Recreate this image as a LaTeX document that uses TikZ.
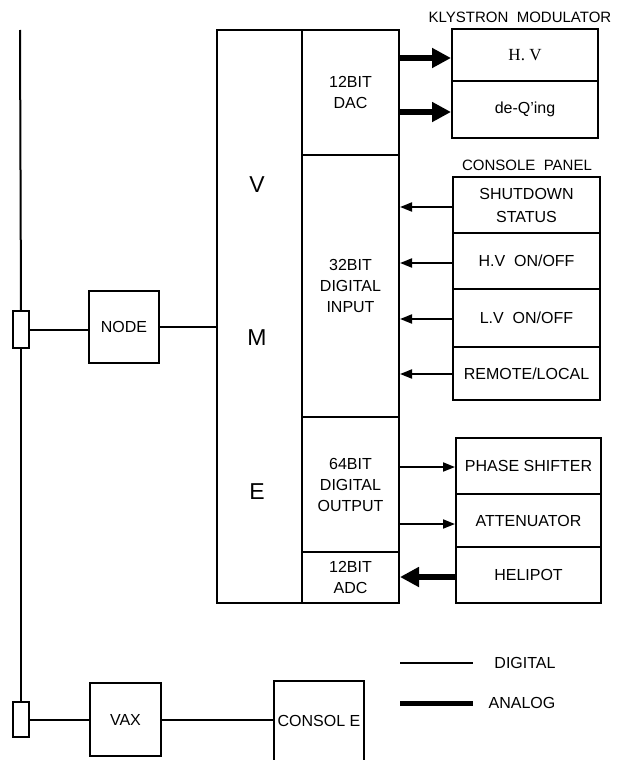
\documentclass[tikz,border=0pt]{standalone}
\usepackage{fontspec}
\setmainfont{Liberation Sans}
\newfontfamily\serifhv{Liberation Serif}
\usetikzlibrary{arrows.meta}
\begin{document}
\begin{tikzpicture}[x=1pt,y=-1pt,line width=2pt,
  font=\fontsize{16}{21}\selectfont,
  box/.style={draw,inner sep=0pt,align=center},
  plain/.style={inner sep=0pt,align=center},
  title/.style={inner sep=0pt,font=\fontsize{15}{18}\selectfont},
  digi/.style={line width=1.8pt,-{Triangle[length=12pt,width=9pt]}},
  anlg/.style={line width=6pt,-{Triangle[length=19pt,width=19pt]}},
  big/.style={inner sep=0pt,font=\fontsize{23}{23}\selectfont}]
\useasboundingbox (0,0) rectangle (626,760);
% VME crate
\node[box,minimum width=85pt,minimum height=573pt] (vme) at (259.5,316.5) {};
\node[big] (v) at (257,185) {V};
\node[big] (m) at (257,338) {M};
\node[big] (e) at (257,492) {E};
\node[box,minimum width=97pt,minimum height=125pt] (dac) at (350.5,92.5) {12BIT\\DAC};
\node[box,minimum width=97pt,minimum height=262pt] (din) at (350.5,286) {32BIT\\DIGITAL\\INPUT};
\node[box,minimum width=97pt,minimum height=135pt] (dout) at (350.5,484.5) {64BIT\\DIGITAL\\OUTPUT};
\node[box,minimum width=97pt,minimum height=51pt] (adc) at (350.5,577.5) {12BIT\\ADC};
% Klystron modulator
\node[title] (kt) at (520,17) {KLYSTRON~~MODULATOR};
\node[box,minimum width=146pt,minimum height=52pt,font=\serifhv\fontsize{17}{18}\selectfont] (hv) at (525,55) {H. V};
\node[box,minimum width=146pt,minimum height=57pt] (deq) at (525,109.5) {de-Q'ing};
% Console panel
\node[title] (ct) at (527,165) {CONSOLE~~PANEL};
\node[box,minimum width=147pt,minimum height=56pt,font=\fontsize{16}{23}\selectfont] (shut) at (526.5,205) {SHUTDOWN\\STATUS};
\node[box,minimum width=147pt,minimum height=56pt] (hvon) at (526.5,261) {H.V~~ON/OFF};
\node[box,minimum width=147pt,minimum height=58pt] (lvon) at (526.5,318) {L.V~~ON/OFF};
\node[box,minimum width=147pt,minimum height=53pt] (rem) at (526.5,373.5) {REMOTE/LOCAL};
% Output devices
\node[box,minimum width=145pt,minimum height=56pt] (phase) at (528.5,466) {PHASE~SHIFTER};
\node[box,minimum width=145pt,minimum height=53pt] (att) at (528.5,520.5) {ATTENUATOR};
\node[box,minimum width=145pt,minimum height=56pt] (heli) at (528.5,575) {HELIPOT};
% Network
\coordinate (bustop) at (20,30);
\node[box,minimum width=16pt,minimum height=37pt] (tap1) at (21,329.5) {};
\node[box,minimum width=16pt,minimum height=35pt] (tap2) at (21,719.5) {};
\node[box,minimum width=70pt,minimum height=72pt] (node) at (124,327) {NODE};
\node[box,minimum width=71pt,minimum height=73pt] (vax) at (125.5,719.5) {VAX};
\node[plain,minimum width=88pt,minimum height=78pt] (cons) at (319,721) {CONSOL E};
\draw (cons.south west) -- (cons.north west) -- (cons.north east) -- (cons.south east);
\draw (bustop) -- (tap1.north);
\draw (tap1.south) -- (tap2.north);
\draw (tap1.east) -- (node.west |- tap1.east);
\draw (node.east) -- (vme.west |- node.east);
\draw (tap2.east) -- (vax.west);
\draw (vax.east) -- (cons.west |- vax.east);
% Signal arrows
\draw[anlg] (dac.east |- 0,58) -- (hv.west |- 0,58);
\draw[anlg] (dac.east |- 0,112) -- (deq.west |- 0,112);
\draw[digi] (shut.west |- 0,207) -- (din.east |- 0,207);
\draw[digi] (hvon.west |- 0,263) -- (din.east |- 0,263);
\draw[digi] (lvon.west |- 0,319) -- (din.east |- 0,319);
\draw[digi] (rem.west |- 0,374) -- (din.east |- 0,374);
\draw[digi] (dout.east |- 0,467) -- (phase.west |- 0,467);
\draw[digi] (dout.east |- 0,524) -- (att.west |- 0,524);
\draw[anlg] (heli.west |- 0,577) -- (adc.east |- 0,577);
% Legend
\coordinate (d1) at (400,663);
\coordinate (d2) at (473,663);
\coordinate (a1) at (400,703);
\coordinate (a2) at (473,703);
\draw (d1) -- (d2);
\draw[line width=5pt] (a1) -- (a2);
\node[plain] (dig) at (525,663) {DIGITAL};
\node[plain] (ana) at (522,703) {ANALOG};
\end{tikzpicture}
\end{document}
